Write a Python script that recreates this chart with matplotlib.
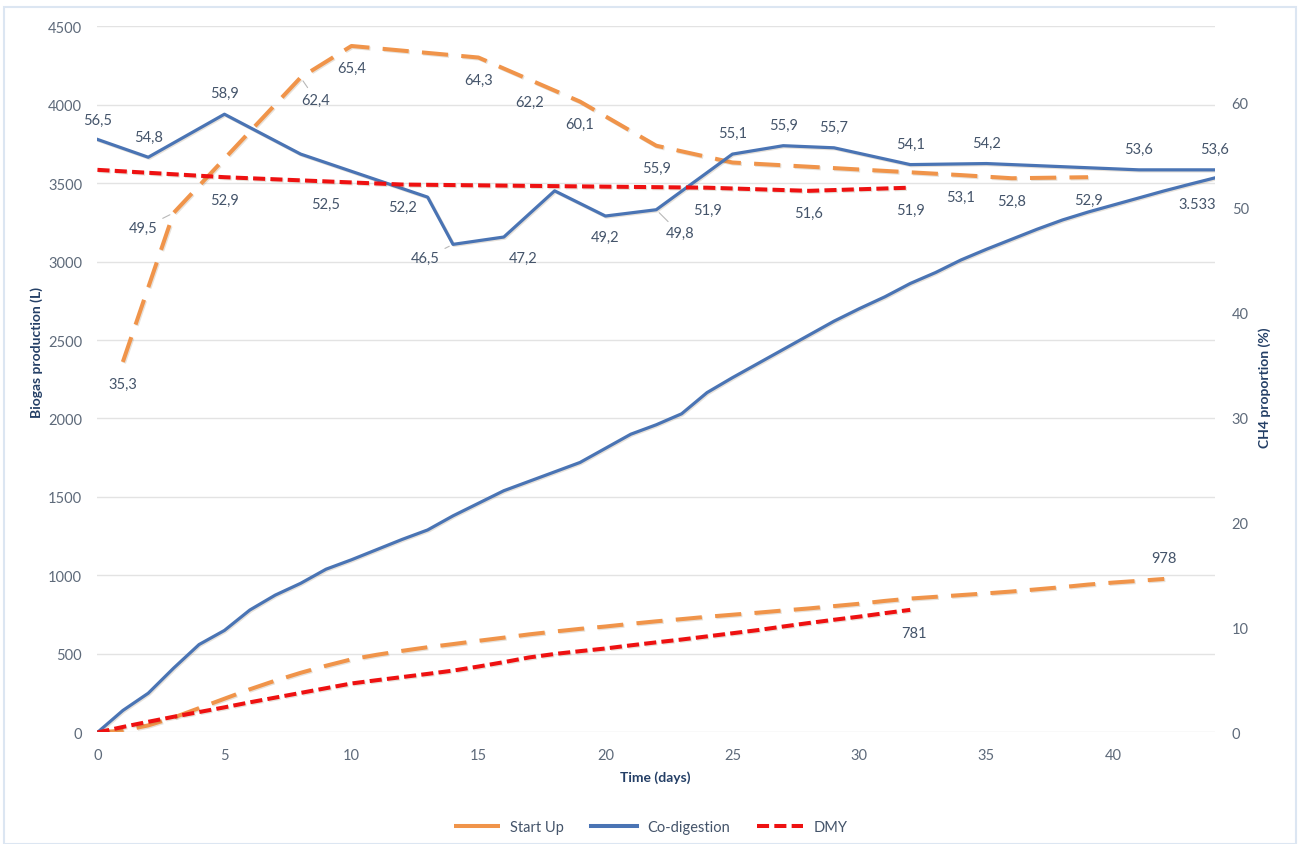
import matplotlib
matplotlib.use("Agg")
import matplotlib.pyplot as plt
import matplotlib.patheffects as pe
from matplotlib.lines import Line2D
from matplotlib.patches import Rectangle

# ---------------- data ----------------
# Cumulative biogas production (L), left axis
codig_days = list(range(0, 45))
codig_biogas = [0, 140, 250, 410, 560, 650, 780, 875, 950, 1040,
                1100, 1165, 1230, 1290, 1380, 1460, 1540, 1600, 1660, 1720,
                1810, 1900, 1960, 2030, 2165, 2260, 2350, 2440, 2530, 2620,
                2700, 2775, 2860, 2930, 3010, 3078, 3142, 3206, 3265, 3315,
                3360, 3405, 3450, 3492, 3533]

startup_days = list(range(0, 43))
startup_biogas = [0, 12, 45, 95, 155, 215, 275, 330, 380, 425,
                  466, 495, 520, 543, 563, 584, 604, 625, 643, 660,
                  675, 692, 708, 722, 737, 750, 763, 777, 790, 805,
                  820, 838, 853, 864, 875, 886, 898, 912, 926, 942,
                  955, 966, 978]

dmy_days = list(range(0, 33))
dmy_biogas = [0, 35, 68, 100, 130, 160, 192, 222, 252, 282,
              312, 333, 353, 373, 394, 420, 448, 478, 500, 518,
              535, 555, 574, 592, 612, 632, 652, 675, 697, 718,
              738, 760, 781]

# CH4 proportion (%), right axis
codig_ch4_days = [0, 2, 5, 8, 13, 14, 16, 18, 20, 22, 25, 27, 29, 32, 35, 41, 44]
codig_ch4 = [56.5, 54.8, 58.9, 55.1, 51.0, 46.5, 47.2, 51.6, 49.2, 49.8,
             55.1, 55.9, 55.7, 54.1, 54.2, 53.6, 53.6]
codig_ch4_labeled = [True, True, True, False, False, True, True, False, True, True,
                     True, True, True, True, True, True, True]

startup_ch4_days = [1, 3, 8, 10, 15, 17, 19, 22, 25, 34, 36, 39]
startup_ch4 = [35.3, 49.5, 62.4, 65.4, 64.3, 62.2, 60.1, 55.9, 54.3, 53.1, 52.8, 52.9]
startup_ch4_labeled = [True, True, True, True, True, True, True, True, False, True, True, True]

dmy_ch4_days = [0, 5, 9, 12, 24, 28, 32]
dmy_ch4 = [53.6, 52.9, 52.5, 52.2, 51.9, 51.6, 51.9]
dmy_ch4_labeled = [False, True, True, True, True, True, True]

x_ticks = [0, 5, 10, 15, 20, 25, 30, 35, 40]
left_ticks = [0, 500, 1000, 1500, 2000, 2500, 3000, 3500, 4000, 4500]
right_ticks = [0, 10, 20, 30, 40, 50, 60]
series_names = ["Start Up", "Co-digestion", "DMY"]

# ---------------- style ----------------
plt.rcParams['font.family'] = ['Lato', 'DejaVu Sans']
ORANGE = '#F0944A'
BLUE = '#4A74B4'
RED = '#EE1111'
LABEL_C = '#44546A'
TICK_C = '#5E6A7A'
TITLE_C = '#243F66'

fig = plt.figure(figsize=(13.01, 8.45), dpi=100)
fig.patch.set_facecolor('white')
fig.patches.append(Rectangle((0.003, 0.0), 0.993, 0.99, transform=fig.transFigure,
                             fill=False, edgecolor='#DCE6F2', lw=1.5, zorder=0))

ax = fig.add_axes([0.0749, 0.132, 0.859, 0.836])
ax2 = ax.twinx()

shadow = [pe.SimpleLineShadow(offset=(0.8, -0.8), alpha=0.18, shadow_color='#7a5a30'), pe.Normal()]

orange_ls = (0, (6.5, 3.3))
red_ls = (0, (3.0, 1.3))

ax.plot(startup_days, startup_biogas, color=ORANGE, lw=2.9, ls=orange_ls, zorder=3,
        path_effects=shadow, dash_capstyle='butt')
ax.plot(codig_days, codig_biogas, color=BLUE, lw=2.3, zorder=3, path_effects=shadow)
ax.plot(dmy_days, dmy_biogas, color=RED, lw=2.9, ls=red_ls, zorder=3, path_effects=shadow)

ax2.plot(startup_ch4_days, startup_ch4, color=ORANGE, lw=2.9, ls=orange_ls, zorder=3,
         path_effects=shadow)
ax2.plot(codig_ch4_days, codig_ch4, color=BLUE, lw=2.3, zorder=3, path_effects=shadow)
ax2.plot(dmy_ch4_days, dmy_ch4, color=RED, lw=2.9, ls=red_ls, zorder=3, path_effects=shadow)

# axes limits / ticks
ax.set_xlim(0, 44)
ax.set_ylim(0, 4500)
ax2.set_ylim(0, 67.3)
ax.set_xticks(x_ticks)
ax.set_yticks(left_ticks)
ax2.set_yticks(right_ticks)
ax.grid(axis='y', color='#E3E3E3', lw=1.0, zorder=0)
ax.set_axisbelow(True)
for a in (ax, ax2):
    for s in a.spines.values():
        s.set_visible(False)
ax.tick_params(axis='both', length=0, labelsize=10.5, labelcolor=TICK_C)
ax.tick_params(axis='y', pad=11)
ax.tick_params(axis='x', pad=11)
ax2.tick_params(axis='y', length=0, labelsize=10.5, labelcolor=TICK_C, pad=12)

# axis titles
fig.text(655 / 1301, 1 - 778 / 845, "Time (days)", ha='center', va='center',
         fontsize=10, fontweight='bold', color=TITLE_C)
fig.text(37 / 1301, 1 - 352 / 845, "Biogas production (L)", ha='center', va='center',
         rotation=90, fontsize=10, fontweight='bold', color=TITLE_C)
fig.text(1265 / 1301, 1 - 388 / 845, "CH4 proportion (%)", ha='center', va='center',
         rotation=90, fontsize=10, fontweight='bold', color=TITLE_C)

def fmt(v):
    return f"{v:.1f}".replace('.', ',')

def put(axis, x, y, text, dx, dy, leader=False):
    kw = {}
    if leader:
        kw['arrowprops'] = dict(arrowstyle='-', color='#B8B8B8', lw=0.8,
                                shrinkA=2, shrinkB=3)
    axis.annotate(text, (x, y), xytext=(dx, dy), textcoords='offset points',
                  ha='center', va='center', fontsize=10.5, color=LABEL_C, zorder=5, **kw)

# co-digestion CH4 labels
codig_offsets = {0: (0, 14), 14: (-20, -10, True), 16: (14, -15), 20: (0, -15),
                 22: (17, -17, True)}
for d, v, lab in zip(codig_ch4_days, codig_ch4, codig_ch4_labeled):
    if not lab:
        continue
    o = codig_offsets.get(d, (0, 15))
    put(ax2, d, v, fmt(v), o[0], o[1], len(o) > 2)

# start up CH4 labels
startup_offsets = {3: (-22, -11, True), 8: (11, -16, True)}
for d, v, lab in zip(startup_ch4_days, startup_ch4, startup_ch4_labeled):
    if not lab:
        continue
    o = startup_offsets.get(d, (0, -16))
    put(ax2, d, v, fmt(v), o[0], o[1], len(o) > 2)

# DMY CH4 labels
for d, v, lab in zip(dmy_ch4_days, dmy_ch4, dmy_ch4_labeled):
    if lab:
        put(ax2, d, v, fmt(v), 0, -16)

# cumulative end labels
put(ax, startup_days[-1], startup_biogas[-1], f"{startup_biogas[-1]}", 0, 15)
put(ax, dmy_days[-1], dmy_biogas[-1], f"{dmy_biogas[-1]}", 3, -17)
put(ax, codig_days[-1], codig_biogas[-1],
    f"{codig_biogas[-1]:,}".replace(',', '.'), -13, -19)

# legend
handles = [Line2D([], [], color=ORANGE, lw=2.9, ls=(0, (12, 3))),
           Line2D([], [], color=BLUE, lw=2.9),
           Line2D([], [], color=RED, lw=2.9, ls=(0, (3.0, 1.3)))]
leg = fig.legend(handles, series_names, loc='center', bbox_to_anchor=(0.5, 1 - 828 / 845),
                 ncol=3, frameon=False, fontsize=10.5, handlelength=3.2,
                 columnspacing=1.8, handletextpad=0.7)
for t in leg.get_texts():
    t.set_color(LABEL_C)

fig.savefig("out.png", dpi=100, facecolor='white')
